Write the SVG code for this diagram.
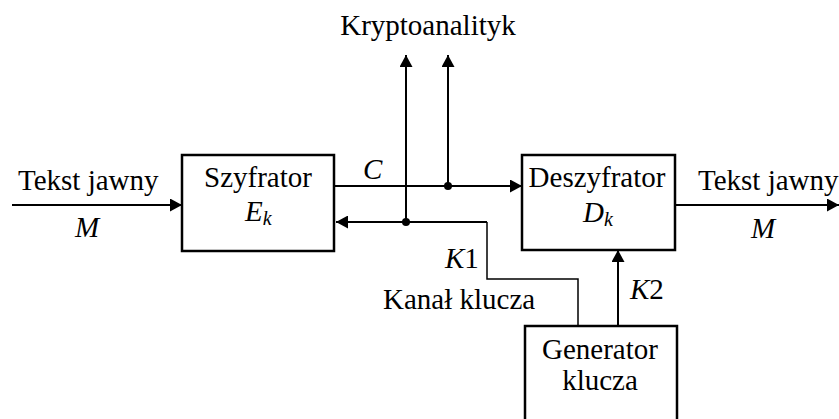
<svg xmlns="http://www.w3.org/2000/svg" width="839" height="419" viewBox="0 0 839 419">
<style>
text{font-family:'Liberation Serif',Tinos,'Times New Roman',Times,'DejaVu Serif',serif;font-size:29px;fill:#000}
.it{font-style:italic}
.sub{font-size:20px;font-style:italic}
.box{fill:#fff;stroke:#000;stroke-width:2.5}
.ln{fill:none;stroke:#000;stroke-width:2}
.thin{fill:none;stroke:#000;stroke-width:1.5}
.c{text-anchor:middle}
</style>
<defs>
<marker id="ah" viewBox="0 0 12 13" refX="12" refY="6.5" markerWidth="12" markerHeight="13" markerUnits="userSpaceOnUse" orient="auto">
<path d="M0,0 L12,6.5 L0,13 Z" fill="#000"/>
</marker>
</defs>
<rect width="839" height="419" fill="#fff"/>
<g id="connectors">
<line class="ln" x1="12" y1="205" x2="182" y2="205" marker-end="url(#ah)"/>
<line class="ln" x1="334" y1="186" x2="522" y2="186" marker-end="url(#ah)"/>
<line class="ln" x1="406" y1="222" x2="406" y2="55" marker-end="url(#ah)"/>
<line class="ln" x1="448" y1="186" x2="448" y2="55" marker-end="url(#ah)"/>
<line class="ln" x1="487" y1="222" x2="336" y2="222" marker-end="url(#ah)"/>
<polyline class="thin" points="487,222 487,279 578,279 578,326"/>
<line class="ln" x1="618" y1="326" x2="618" y2="250" marker-end="url(#ah)"/>
<line class="ln" x1="675" y1="205" x2="839" y2="205" marker-end="url(#ah)"/>
<circle cx="406" cy="222" r="4"/>
<circle cx="448" cy="186" r="4"/>
<text x="18" y="190" font-family="Liberation Serif, serif">Tekst jawny</text>
<text class="it c" x="87" y="237">M</text>
<text class="it" x="363" y="179">C</text>
<text class="c" x="428" y="35">Kryptoanalityk</text>
<text x="698" y="190">Tekst jawny</text>
<text class="it c" x="763" y="238">M</text>
<text x="445" y="268"><tspan class="it">K</tspan>1</text>
<text x="383" y="309">Kanał klucza</text>
<text x="630" y="299"><tspan class="it">K</tspan>2</text>
</g>
<g id="szyfrator">
<rect class="box" x="182" y="155" width="152" height="96"/>
<text class="c" x="258" y="187">Szyfrator</text>
<text class="it" x="245" y="221">E<tspan class="sub" dy="4">k</tspan></text>
</g>
<g id="deszyfrator">
<rect class="box" x="522" y="155" width="153" height="95"/>
<text class="c" x="597" y="187">Deszyfrator</text>
<text class="it" x="583" y="222">D<tspan class="sub" dy="4">k</tspan></text>
</g>
<g id="generator">
<rect class="box" x="525" y="326" width="152" height="110"/>
<text class="c" x="600" y="359">Generator</text>
<text class="c" x="600" y="390">klucza</text>
</g>
</svg>
